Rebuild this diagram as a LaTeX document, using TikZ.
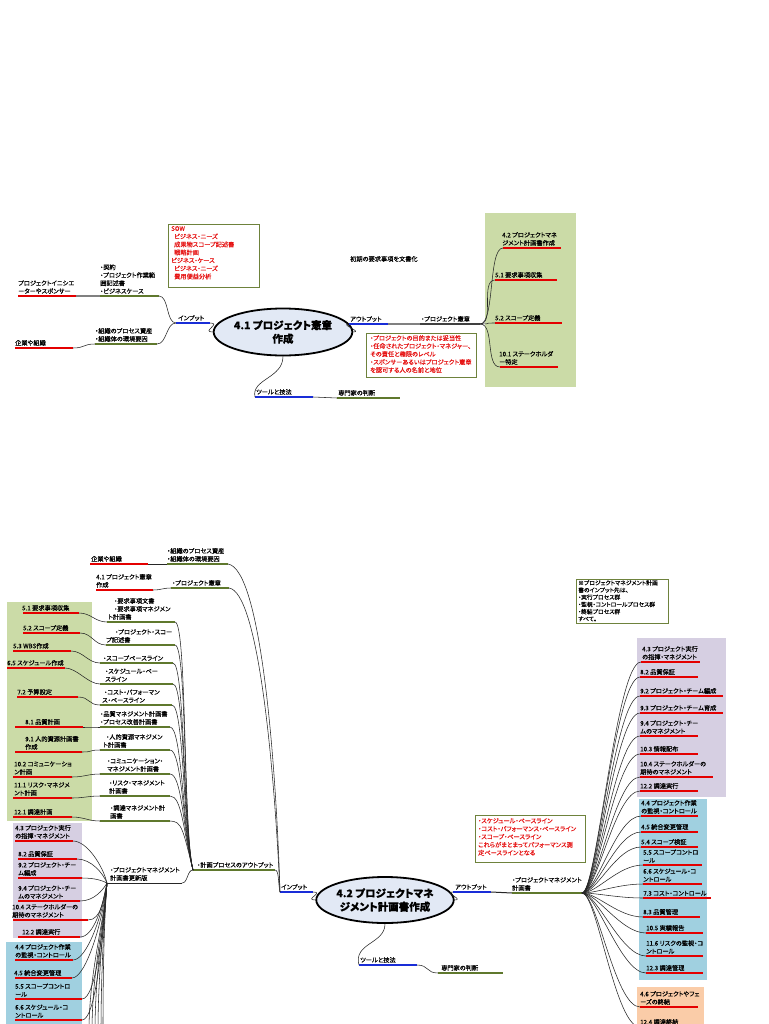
\documentclass[tikz,border=0pt]{standalone}
\usepackage{fontspec}
\setmainfont{Noto Sans CJK JP}[RawFeature=+palt, FakeBold=0.35]
\usetikzlibrary{shapes.geometric}
\definecolor{rline}{RGB}{228,0,0}
\definecolor{gline}{RGB}{95,120,45}
\definecolor{bline}{RGB}{25,45,215}
\definecolor{gbox}{RGB}{203,219,167}
\definecolor{pbox}{RGB}{214,207,226}
\definecolor{cbox}{RGB}{160,208,224}
\definecolor{obox}{RGB}{250,204,168}
\definecolor{ellfill}{RGB}{226,233,245}
\definecolor{notebd}{RGB}{110,130,60}
\definecolor{redtxt}{RGB}{230,20,20}
\tikzset{
 mmtxt/.style={font=\fontsize{6.2}{8}\selectfont, align=left, inner sep=0pt, anchor=south west},
 mmred/.style={draw=rline, line width=2.6pt},
 mmgrn/.style={draw=gline, line width=2pt},
 mmblue/.style={draw=bline, line width=2.6pt},
 mmdk/.style={draw=black!75, line width=1.6pt},
 mmconn/.style={draw=black!85, line width=0.55pt},
 mmgbar/.style={draw=gray, line width=1.4pt},
 mmnote/.style={draw=notebd, line width=0.8pt, fill=white},
 mmnotetxt/.style={font=\fontsize{6.2}{8}\selectfont, align=left, inner sep=0pt, anchor=north west},
 mmell/.style={ellipse, draw=black, line width=1.8pt, fill=ellfill, inner sep=0pt,
   font=\fontsize{10.5}{13.5}\selectfont\bfseries, align=center},
}
\newcommand{\mmbar}[7]{%
  \coordinate (#1-a) at (#2,#4);
  \coordinate (#1-b) at (#3,#4);
  \draw[#5] (#1-a) -- (#1-b);
  \node[mmtxt] (#1-t) at (#6,#4-2) {#7};
}
\begin{document}
\begin{tikzpicture}[x=1pt,y=-1pt]
\useasboundingbox (0,0) rectangle (768,1024);
\clip (0,0) rectangle (768,1024);
\fill[white] (0,0) rectangle (768,1024);

% ================= TOP DIAGRAM =================
\fill[gbox] (485,213) rectangle (576,387);
\draw[mmnote] (168,224) rectangle (259,287);
\node[mmnotetxt, text=redtxt] (n1) at (171,226) {SOW\\\hspace*{3pt}ビジネス・ニーズ\\\hspace*{3pt}成果物スコープ記述書\\\hspace*{3pt}戦略計画\\ビジネス・ケース\\\hspace*{3pt}ビジネス・ニーズ\\\hspace*{3pt}費用便益分析};
\draw[mmnote] (366,333) rectangle (476,377);
\node[mmnotetxt, text=redtxt] (n2) at (370,335) {・プロジェクトの目的または妥当性\\・任命されたプロジェクト・マネジャー、\\その責任と権限のレベル\\・スポンサーあるいはプロジェクト憲章\\を認可する人の名前と地位};
\node[mmtxt] (n3) at (350,262) {初期の要求事項を文書化};

\node[mmell, minimum width=92pt, minimum height=47pt] (E1) at (283,332) {4.1 プロジェクト憲章\\作成};
\mmbar{in1}{176}{210}{323}{mmblue}{178}{インプット}
\mmbar{ga}{100}{159}{296}{mmgrn}{100}{・契約\\・プロジェクト作業範\\囲記述書\\・ビジネスケース}
\mmbar{ra}{18}{76}{296}{mmred}{18}{プロジェクトイニシエ\\ーターやスポンサー}
\mmbar{gb}{95}{157}{344}{mmgrn}{95}{・組織のプロセス資産\\・組織体の環境要因}
\mmbar{rb}{15}{73}{348}{mmred}{15}{企業や組織}
\mmbar{out1}{349}{388}{324}{mmblue}{350}{アウトプット}
\mmbar{ch1}{420}{480}{324}{mmdk}{421}{・プロジェクト憲章}
\draw[mmgbar] (out1-b) -- (ch1-a);
\mmbar{tl1}{255}{313}{397}{mmblue}{256}{ツールと技法}
\mmbar{ex1}{337}{400}{398}{mmgrn}{338}{専門家の判断}
\mmbar{t1}{503}{561}{248}{mmred}{502}{4.2 プロジェクトマネ\\ジメント計画書作成}
\mmbar{t2}{495}{557}{280}{mmred}{495}{5.1 要求事項収集}
\mmbar{t3}{495}{562}{323}{mmred}{495}{5.2 スコープ定義}
\mmbar{t4}{500}{558}{367}{mmred}{499}{10.1 ステークホルダ\\ー特定}

\draw[mmconn] (E1.west) .. controls +(-12,0) and +(12,0) .. (in1-b);
\draw[mmconn] (in1-a) .. controls +(-10,0) and +(10,0) .. (ga-b);
\draw[mmconn] (in1-a) .. controls +(-10,0) and +(10,0) .. (gb-b);
\draw[mmgbar] (ra-b) -- (ga-a);
\draw[mmconn] (rb-b) .. controls +(12,0) and +(-12,0) .. (gb-a);
\draw[mmconn] (E1.east) .. controls +(10,0) and +(-10,0) .. (out1-a);
\draw[mmconn] (E1.south) .. controls +(0,22) and +(-4,-18) .. (tl1-a);
\draw[mmconn] (tl1-b) .. controls +(12,0) and +(-12,0) .. (ex1-a);
\foreach \t in {t1,t2,t3,t4} \draw[mmconn] (ch1-b) .. controls +(15,0) and +(-15,0) .. (\t-a);

% ================= BOTTOM DIAGRAM =================
\fill[gbox] (7,602) rectangle (92,821);
\fill[pbox] (13,823) rectangle (82,938);
\fill[cbox] (6,942) rectangle (82,1030);
\fill[pbox] (637,638) rectangle (726,797);
\fill[cbox] (639,799) rectangle (707,980);
\fill[obox] (637,987) rectangle (704,1030);

\draw[mmnote] (576,579) rectangle (668,623);
\node[mmnotetxt, font=\fontsize{5.8}{7.2}\selectfont] (n4) at (578,580) {※プロジェクトマネジメント計画\\書のインプット先は、\\・実行プロセス群\\・監視・コントロールプロセス群\\・終結プロセス群\\すべて。};
\draw[mmnote] (475,815) rectangle (585,862);
\node[mmnotetxt, text=redtxt] (n5) at (478,818) {・スケジュール・ベースライン\\・コスト・パフォーマンス・ベースライン\\・スコープ・ベースライン\\これらがまとまってパフォーマンス測\\定ベースラインとなる};

\node[mmell, minimum width=95pt, minimum height=46pt] (E2) at (385,900) {4.2 プロジェクトマネ\\ジメント計画書作成};
\mmbar{in2}{280}{313}{892}{mmblue}{281}{インプット}
\mmbar{out2}{453}{491}{892}{mmblue}{455}{アウトプット}
\mmbar{pm}{512}{582}{893}{mmgrn}{512}{・プロジェクトマネジメント\\計画書}
\draw[mmconn, line width=1pt] (out2-b) -- (pm-a);
\mmbar{tl2}{359}{417}{965}{mmblue}{360}{ツールと技法}
\mmbar{ex2}{438}{503}{973}{mmgrn}{441}{専門家の判断}

\mmbar{ro}{90}{148}{564}{mmred}{91}{企業や組織}
\mmbar{go}{167}{228}{564}{mmgrn}{167}{・組織のプロセス資産\\・組織体の環境要因}
\mmbar{rc}{96}{153}{590}{mmred}{96}{4.1 プロジェクト憲章\\作成}
\mmbar{gc}{171}{229}{588}{mmgrn}{172}{・プロジェクト憲章}
\draw[mmconn] (ro-b) -- (go-a);
\draw[mmconn] (rc-b) .. controls +(8,0) and +(-8,0) .. (gc-a);
\mmbar{po}{193}{275}{870}{mmgrn}{197}{・計画プロセスのアウトプット}
\mmbar{up}{107}{182}{883}{mmconn}{110}{・プロジェクトマネジメント\\計画書更新版}

% planning inputs (left green box)
\mmbar{r1}{23}{79}{613}{mmred}{22}{5.1 要求事項収集}
\mmbar{r2}{23}{80}{633}{mmred}{23}{5.2 スコープ定義}
\mmbar{r3}{13}{71}{651}{mmred}{13}{5.3 WBS作成}
\mmbar{r4}{7}{65}{668}{mmred}{7}{6.5 スケジュール作成}
\mmbar{r5}{17}{78}{697}{mmred}{17}{7.2 予算設定}
\mmbar{r6}{15}{83}{727}{mmred}{25}{8.1 品質計画}
\mmbar{r7}{15}{82}{752}{mmred}{25}{9.1 人的資源計画書\\作成}
\mmbar{r8}{13}{72}{777}{mmred}{14}{10.2 コミュニケーショ\\ン計画}
\mmbar{r9}{13}{72}{798}{mmred}{14}{11.1 リスク・マネジメ\\ント計画}
\mmbar{r10}{13}{72}{817}{mmred}{14}{12.1 調達計画}
\mmbar{g1}{107}{175}{622}{mmgrn}{108}{\hspace*{6pt}・要求事項文書\\\hspace*{6pt}・要求事項マネジメン\\ト計画書}
\mmbar{g2}{106}{175}{645}{mmgrn}{106}{\hspace*{9pt}・プロジェクト・スコー\\プ記述書}
\mmbar{g3}{100}{173}{663}{mmgrn}{103}{・スコープベースライン}
\mmbar{g4}{100}{173}{684}{mmgrn}{105}{・スケジュール・ベー\\スライン}
\mmbar{g5}{100}{172}{705}{mmgrn}{102}{\hspace*{2pt}・コスト・パフォーマン\\ス・ベースライン}
\mmbar{g6}{100}{170}{727}{mmgrn}{100}{・品質マネジメント計画書\\・プロセス改善計画書}
\mmbar{g7}{100}{170}{750}{mmgrn}{103}{\hspace*{3pt}・人的資源マネジメン\\ト計画書}
\mmbar{g8}{100}{170}{774}{mmgrn}{107}{・コミュニケーション・\\マネジメント計画書}
\mmbar{g9}{100}{170}{796}{mmgrn}{109}{・リスク・マネジメント\\計画書}
\mmbar{g10}{100}{170}{821}{mmgrn}{110}{・調達マネジメント計\\画書}
\foreach \i in {1,...,10} {
  \draw[mmconn] (r\i-b) .. controls +(12,0) and +(-12,0) .. (g\i-a);
  \draw[mmconn] (g\i-b) .. controls +(12,0) and +(-10,-40) .. (po-a);
}
\draw[mmconn] (up-b) .. controls +(6,0) and +(-6,0) .. (po-a);

% left execution / monitoring items
\mmbar{lp1}{15}{73}{841}{mmred}{15}{4.3 プロジェクト実行\\の指揮・マネジメント}
\mmbar{lp2}{18}{77}{859}{mmred}{18}{8.2 品質保証}
\mmbar{lp3}{18}{82}{878}{mmred}{18}{9.2 プロジェクト・チー\\ム編成}
\mmbar{lp4}{18}{80}{901}{mmred}{18}{9.4 プロジェクト・チー\\ムのマネジメント}
\mmbar{lp5}{13}{88}{920}{mmred}{12}{10.4 ステークホルダーの\\期待のマネジメント}
\mmbar{lp6}{18}{80}{937}{mmred}{22}{12.2 調達実行}
\mmbar{lb1}{15}{73}{960}{mmred}{15}{4.4 プロジェクト作業\\の監視・コントロール}
\mmbar{lb2}{15}{72}{978}{mmred}{14}{4.5 統合変更管理}
\mmbar{lb3}{15}{82}{999}{mmred}{15}{5.5 スコープコントロ\\ール}
\mmbar{lb4}{15}{82}{1020}{mmred}{15}{6.6 スケジュール・コ\\ントロール}
\foreach \n/\d in {lp1/-17,lp2/-10,lp3/-2,lp4/7,lp5/15,lp6/22,lb1/31,lb2/38,lb3/46,lb4/55}
  \draw[mmconn] (\n-b) .. controls +(14,0) and +(-4,\d) .. (up-a);
\foreach \k/\x in {1/89,2/92,3/95,4/98,5/101,6/103} {
  \coordinate (dn\k) at (\x,1032);
  \draw[mmconn] (up-a) .. controls +(-3,40) and +(0,-60) .. (dn\k);
}

% inputs to 4.2
\draw[mmconn] (go-b) .. controls +(33,5) and +(-4,-130) .. (in2-a);
\draw[mmconn] (gc-b) .. controls +(29,4) and +(-6,-130) .. (in2-a);
\draw[mmconn] (po-b) .. controls +(4,0) and +(-2,-10) .. (in2-a);
\draw[mmconn] (E2.west) .. controls +(-12,0) and +(12,0) .. (in2-b);
\draw[mmconn] (E2.east) .. controls +(10,0) and +(-10,0) .. (out2-a);
\draw[mmconn] (E2.south) .. controls +(0,20) and +(-6,-22) .. (tl2-a);
\draw[mmconn] (tl2-b) .. controls +(12,0) and +(-12,0) .. (ex2-a);

% right side outputs
\mmbar{p1}{641}{700}{662}{mmred}{642}{4.3 プロジェクト実行\\の指揮・マネジメント}
\mmbar{p2}{640}{698}{677}{mmred}{640}{8.2 品質保証}
\mmbar{p3}{640}{723}{696}{mmred}{640}{9.2 プロジェクト・チーム編成}
\mmbar{p4}{640}{723}{713}{mmred}{640}{9.3 プロジェクト・チーム育成}
\mmbar{p5}{640}{698}{736}{mmred}{640}{9.4 プロジェクト・チー\\ムのマネジメント}
\mmbar{p6}{640}{698}{754}{mmred}{640}{10.3 情報配布}
\mmbar{p7}{640}{713}{777}{mmred}{640}{10.4 ステークホルダーの\\期待のマネジメント}
\mmbar{p8}{640}{698}{791}{mmred}{640}{12.2 調達実行}
\mmbar{b1}{641}{698}{816}{mmred}{641}{4.4 プロジェクト作業\\の監視・コントロール}
\mmbar{b2}{641}{698}{832}{mmred}{641}{4.5 統合変更管理}
\mmbar{b3}{641}{698}{847}{mmred}{641}{5.4 スコープ検証}
\mmbar{b4}{643}{702}{865}{mmred}{643}{5.5 スコープコントロ\\ール}
\mmbar{b5}{643}{702}{884}{mmred}{643}{6.6 スケジュール・コ\\ントロール}
\mmbar{b6}{643}{711}{898}{mmred}{643}{7.3 コスト・コントロール}
\mmbar{b7}{643}{700}{917}{mmred}{643}{8.3 品質管理}
\mmbar{b8}{646}{703}{933}{mmred}{646}{10.5 実績報告}
\mmbar{b9}{646}{703}{956}{mmred}{646}{11.6 リスクの監視・コ\\ントロール}
\mmbar{b10}{646}{703}{973}{mmred}{646}{12.3 調達管理}
\mmbar{o1}{640}{698}{1007}{mmred}{640}{4.6 プロジェクトやフェ\\ーズの終結}
\mmbar{o2}{640}{698}{1027}{mmred}{640}{12.4 調達終結}
\foreach \n in {p1,p2,p3,p4,p5,p6,p7,p8,b1,b2,b3,b4,b5,b6,b7,b8,b9,b10,o1,o2}
  \draw[mmconn] (pm-b) .. controls +(15,0) and +(-25,0) .. (\n-a);
\end{tikzpicture}
\end{document}
